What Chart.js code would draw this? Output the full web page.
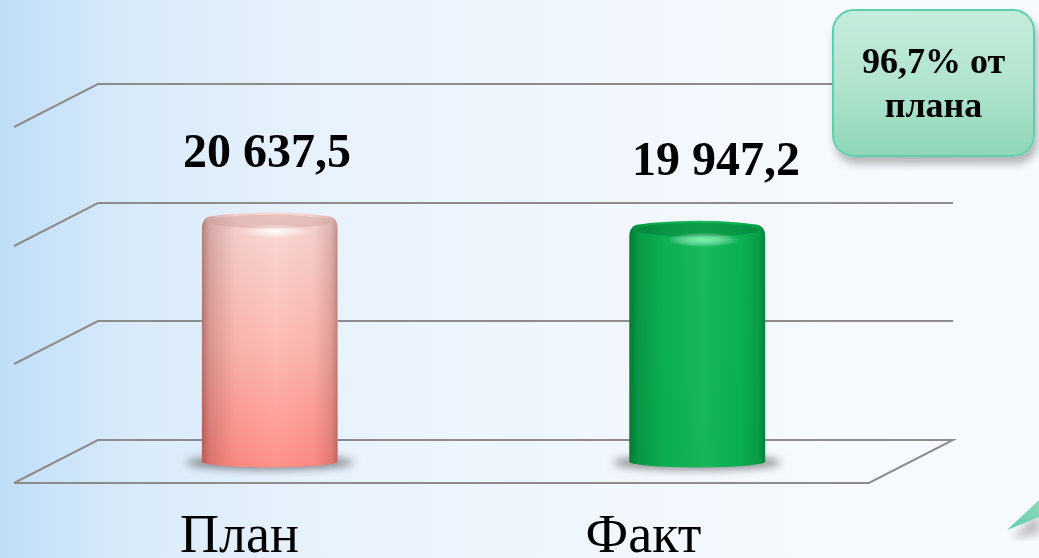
<!DOCTYPE html>
<html lang="ru">
<head>
<meta charset="utf-8">
<script src="https://cdn.jsdelivr.net/npm/chart.js@4.4.1/dist/chart.umd.min.js"></script>
<style>
    html, body { margin: 0; padding: 0; }
    body {
        width: 1039px; height: 558px; overflow: hidden; position: relative;
        background: linear-gradient(90deg, #bfdef8 0%, #d8eafa 12%, #e8f2fc 30%, #f0f6fd 55%, #f6fafe 80%, #f8fbfe 100%);
        font-family: "Liberation Serif", "Times New Roman", serif;
    }
    #chart { position: absolute; left: 0; top: 0; }
    .callout {
        position: absolute; left: 832px; top: 9px; width: 199px; height: 144px;
        border: 2px solid #5ecfab; border-radius: 22px;
        background: linear-gradient(180deg, #c5ecdc 0%, #b1e4cf 50%, #8fd6b8 100%);
        box-shadow: 3px 7px 9px rgba(0, 0, 0, 0.28);
        display: flex; align-items: center; justify-content: center; text-align: center;
        font-weight: bold; font-size: 36px; line-height: 44px; color: #000;
    }
    #arrow { position: absolute; left: 990px; top: 480px; }
</style>
</head>
<body>
<canvas id="chart" width="1039" height="558"></canvas>
<div class="callout">96,7% от<br>плана</div>
<svg id="arrow" width="49" height="78" viewBox="990 480 49 78">
    <defs>
        <filter id="blur"><feGaussianBlur stdDeviation="4"/></filter>
        <linearGradient id="tg" x1="0" y1="1" x2="1" y2="0">
            <stop offset="0" stop-color="#5ccfa9"/>
            <stop offset="1" stop-color="#8fd8bb"/>
        </linearGradient>
    </defs>
    <polygon points="1012,538 1039,512 1039,534" fill="rgba(0,0,0,0.25)" filter="url(#blur)"/>
    <polygon points="1007,530 1039,500 1039,517" fill="url(#tg)"/>
</svg>
<script>
const categories = ['План', 'Факт'];
const values = [20637.5, 19947.2];
const valueLabels = ['20 637,5', '19 947,2'];
const yTicks = [0, 10000, 20000, 30000];

// depth of the 3D floor: back wall -> front edge
const DEPTH_X = -84, DEPTH_Y = 43;

const palettes = [
    { top: '#f9d8d4', mid: '#fdbab3', bottom: '#ff8c83', shadeRGB: '110,40,40', cap: 'rgba(190,140,140,0.3)', glow: 'rgba(255,255,255,0.95)' },
    { top: '#0cb655', mid: '#0bb554', bottom: '#0ab252', shadeRGB: '0,60,25', cap: 'rgba(0,90,40,0.3)', glow: 'rgba(110,250,170,0.95)' }
];

function drawCylinder(ctx, cx, topY, baseY, w, pal) {
    const rx = w / 2, ry = 8, ryBot = 6, R = 12;

    // shadow on the floor
    ctx.save();
    ctx.filter = 'blur(4px)';
    ctx.fillStyle = 'rgba(40,40,40,0.55)';
    ctx.beginPath();
    ctx.ellipse(cx, baseY + 1, rx + 16, 7, 0, 0, Math.PI * 2);
    ctx.fill();
    ctx.restore();

    const cy = topY + ry;
    const k = (rx - R) / rx;
    const t1 = Math.PI + Math.acos(k);
    const t2 = 2 * Math.PI - Math.acos(k);
    const shY = cy - ry * Math.sqrt(1 - k * k);

    ctx.save();
    ctx.beginPath();
    ctx.moveTo(cx - rx, baseY);
    ctx.lineTo(cx - rx, cy + R * 0.7);
    ctx.quadraticCurveTo(cx - rx, shY, cx - rx + R, shY);
    ctx.ellipse(cx, cy, rx, ry, 0, t1, t2, false);
    ctx.quadraticCurveTo(cx + rx, shY, cx + rx, cy + R * 0.7);
    ctx.lineTo(cx + rx, baseY);
    ctx.ellipse(cx, baseY, rx, ryBot, 0, 0, Math.PI, false);
    ctx.closePath();

    const vg = ctx.createLinearGradient(0, topY, 0, baseY + ryBot);
    vg.addColorStop(0, pal.top);
    vg.addColorStop(0.5, pal.mid);
    vg.addColorStop(1, pal.bottom);
    ctx.fillStyle = vg;
    ctx.fill();
    ctx.clip();

    const s = pal.shadeRGB;
    const hg = ctx.createLinearGradient(cx - rx, 0, cx + rx, 0);
    hg.addColorStop(0, 'rgba(' + s + ',0.5)');
    hg.addColorStop(0.06, 'rgba(' + s + ',0.25)');
    hg.addColorStop(0.25, 'rgba(' + s + ',0.04)');
    hg.addColorStop(0.55, 'rgba(255,255,255,0.06)');
    hg.addColorStop(0.82, 'rgba(' + s + ',0.03)');
    hg.addColorStop(0.95, 'rgba(' + s + ',0.2)');
    hg.addColorStop(1, 'rgba(' + s + ',0.42)');
    ctx.fillStyle = hg;
    ctx.fillRect(cx - rx, topY - 2, w, baseY - topY + ryBot + 4);

    // top face
    ctx.fillStyle = pal.cap;
    ctx.beginPath();
    ctx.ellipse(cx, cy + 1, rx - R * 0.6, ry - 1, 0, 0, Math.PI * 2);
    ctx.fill();

    // rim highlight
    ctx.save();
    ctx.translate(cx + 6, cy + ry + 3);
    ctx.scale(1, 0.2);
    const rg = ctx.createRadialGradient(0, 0, 0, 0, 0, 36);
    rg.addColorStop(0, pal.glow);
    rg.addColorStop(1, 'rgba(255,255,255,0)');
    ctx.fillStyle = rg;
    ctx.beginPath();
    ctx.arc(0, 0, 36, 0, Math.PI * 2);
    ctx.fill();
    ctx.restore();

    ctx.restore();
}

const floor3d = {
    id: 'floor3d',
    beforeDatasetsDraw(chart) {
        const { ctx, chartArea: a, scales: { y } } = chart;
        ctx.save();
        ctx.strokeStyle = '#8c8c8c';
        ctx.lineWidth = 2;
        yTicks.forEach(t => {
            const py = Math.round(y.getPixelForValue(t));
            ctx.beginPath();
            ctx.moveTo(a.left + DEPTH_X, py + DEPTH_Y);
            ctx.lineTo(a.left, py);
            ctx.lineTo(a.right, py);
            if (t === yTicks[0]) {
                ctx.lineTo(a.right + DEPTH_X, py + DEPTH_Y);
                ctx.lineTo(a.left + DEPTH_X, py + DEPTH_Y);
            }
            ctx.stroke();
        });
        ctx.restore();
    },
    afterDatasetsDraw(chart) {
        const { ctx, chartArea: a } = chart;
        const mid = (a.left + a.right) / 2;
        const meta = chart.getDatasetMeta(0);
        meta.data.forEach((bar, i) => {
            const cx = bar.x + DEPTH_X / 2;
            const base = bar.base + DEPTH_Y / 2;
            const top = bar.y + DEPTH_Y / 2 - 4;
            drawCylinder(ctx, cx, top, base, bar.width, palettes[i]);

            ctx.save();
            ctx.fillStyle = '#000';
            ctx.textAlign = 'center';
            ctx.textBaseline = 'alphabetic';
            ctx.font = 'bold 48px "Liberation Serif", "Times New Roman", serif';
            ctx.fillText(valueLabels[i], mid + (bar.x - mid) * 1.05 - 34, top - 46);
            ctx.font = '54px "Liberation Serif", "Times New Roman", serif';
            ctx.fillText(categories[i], mid + (bar.x - mid) * 0.945 + DEPTH_X, 552);
            ctx.restore();
        });
    }
};

new Chart(document.getElementById('chart'), {
    type: 'bar',
    data: {
        labels: categories,
        datasets: [{
            data: values,
            backgroundColor: 'rgba(0,0,0,0)',
            borderWidth: 0,
            categoryPercentage: 1,
            barPercentage: 0.318
        }]
    },
    options: {
        responsive: false,
        animation: false,
        layout: { padding: { left: 98, right: 86, top: 84, bottom: 118 } },
        scales: {
            x: { display: false },
            y: { display: false, min: 0, max: 30000 }
        },
        plugins: {
            legend: { display: false },
            tooltip: { enabled: false }
        }
    },
    plugins: [floor3d]
});
</script>
</body>
</html>
